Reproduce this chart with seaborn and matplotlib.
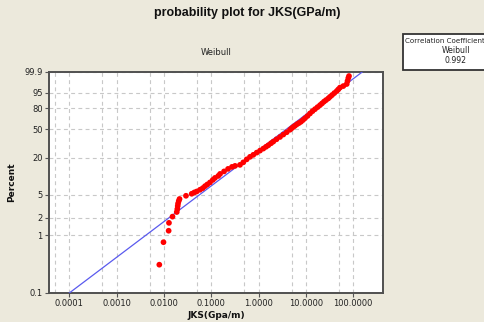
import numpy as np
import pandas as pd
import matplotlib
matplotlib.use("Agg")
import matplotlib.pyplot as plt
import matplotlib.ticker as mticker
from matplotlib.patches import Rectangle
import seaborn as sns

# ---------------- data ----------------
jks = [0.0080, 0.0098, 0.0126, 0.0128, 0.0152, 0.0187, 0.0192, 0.0196, 0.0199, 0.0206,
       0.0214, 0.0293, 0.0387, 0.0439, 0.0494, 0.0580, 0.0661, 0.0740, 0.0827, 0.0943,
       0.108, 0.120, 0.141, 0.154, 0.187, 0.227, 0.275, 0.319, 0.406, 0.477,
       0.563, 0.661, 0.777, 0.916, 1.076, 1.264, 1.441, 1.612, 1.838, 2.056,
       2.403, 2.850, 3.346, 3.948, 4.636, 5.034, 5.444, 5.913, 6.518, 7.184,
       7.916, 8.728, 9.621, 10.87, 12.27, 13.86, 15.65, 17.68, 19.97, 22.00,
       24.26, 26.74, 29.91, 32.49, 35.81, 40.06, 45.03, 48.68, 52.87, 62.09,
       73.25, 76.15, 79.17, 81.91]
percent = [0.31, 0.76, 1.20, 1.64, 2.10, 2.52, 2.83, 3.19, 3.52, 3.89,
           4.21, 4.77, 5.16, 5.43, 5.64, 6.03, 6.41, 6.93, 7.40, 8.00,
           8.80, 9.50, 10.25, 11.06, 12.15, 13.35, 14.38, 14.92, 15.49, 16.98,
           18.93, 20.71, 22.24, 24.02, 25.74, 27.57, 29.30, 30.81, 32.90, 34.77,
           37.40, 40.18, 43.21, 46.24, 49.65, 51.75, 53.60, 55.32, 57.50, 59.26,
           61.18, 63.69, 66.34, 69.57, 73.16, 76.37, 79.05, 81.62, 84.05, 85.99,
           87.91, 89.40, 90.95, 92.28, 93.56, 94.88, 96.00, 96.82, 97.54, 98.05,
           98.60, 99.19, 99.56, 99.72]

# fitted Weibull line parameters
weibull_shape = 0.62
weibull_scale = 6.9
corr_coef = "0.992"

y_ticks = [0.1, 1, 2, 5, 20, 50, 80, 95, 99.9]
y_tick_labels = ["0.1", "1", "2", "5", "20", "50", "80", "95", "99.9"]
x_ticks = [0.0001, 0.001, 0.01, 0.1, 1, 10, 100]
x_tick_labels = ["0.0001", "0.0010", "0.0100", "0.1000", "1.0000", "10.0000", "100.0000"]

title = "probability plot for JKS(GPa/m)"
subtitle = "Weibull"
xlabel = "JKS(Gpa/m)"
ylabel = "Percent"

# ---------------- figure ----------------
sns.set_theme(style="white")
plt.rcParams["font.family"] = ["DejaVu Sans"]

BG = "#ECE9DC"
fig = plt.figure(figsize=(4.85, 3.22), dpi=100, facecolor=BG)
ax = fig.add_axes([49 / 485, 1 - 293 / 322, (383 - 49) / 485, (293 - 72) / 322])
ax.set_facecolor("white")


def fwd(p):
    p = np.asarray(p, dtype=float)
    with np.errstate(all="ignore"):
        return np.log(-np.log(1.0 - p / 100.0))


def inv(w):
    w = np.asarray(w, dtype=float)
    with np.errstate(all="ignore"):
        return 100.0 * (1.0 - np.exp(-np.exp(w)))


ax.set_xscale("log")
ax.set_yscale("function", functions=(fwd, inv))
xlo, xhi = 10 ** -4.429, 10 ** 2.632
ax.set_xlim(xlo, xhi)
ax.set_ylim(0.1, 99.9)

# fitted line
xfit = np.logspace(np.log10(xlo), np.log10(xhi), 300)
pfit = 100.0 * (1.0 - np.exp(-(xfit / weibull_scale) ** weibull_shape))
fit_df = pd.DataFrame({"x": xfit, "p": pfit})
sns.lineplot(data=fit_df, x="x", y="p", ax=ax, color="#5A5AEE", lw=0.9, zorder=3)

df = pd.DataFrame({"jks": jks, "percent": percent})
sns.scatterplot(data=df, x="jks", y="percent", ax=ax, color="#FF0000", s=17,
                edgecolor="none", linewidth=0, zorder=4)

ax.set_xlim(xlo, xhi)
ax.set_ylim(0.1, 99.9)

# ticks
ax.yaxis.set_major_locator(mticker.FixedLocator(y_ticks))
ax.yaxis.set_major_formatter(mticker.FixedFormatter(y_tick_labels))
ax.yaxis.set_minor_locator(mticker.NullLocator())
ax.xaxis.set_major_locator(mticker.FixedLocator(x_ticks))
ax.xaxis.set_major_formatter(mticker.FixedFormatter(x_tick_labels))
ax.xaxis.set_minor_locator(mticker.FixedLocator([5e-5, 5e-4, 5e-3, 5e-2, 0.5, 5, 50]))
ax.xaxis.set_minor_formatter(mticker.NullFormatter())

ax.tick_params(axis="both", which="major", direction="out", length=3, width=0.8,
               color="#555555", labelsize=6, labelcolor="#222222", pad=1.5,
               left=True, bottom=True)
ax.tick_params(axis="x", which="minor", length=0)

grid_kw = dict(color="#C8C8C8", lw=0.8, linestyle=(0, (3.5, 3)))
ax.grid(True, axis="x", which="both", **grid_kw)
ax.grid(True, axis="y", which="major", **grid_kw)
ax.set_axisbelow(True)

for sp in ax.spines.values():
    sp.set_visible(True)
    sp.set_color("#505050")
    sp.set_linewidth(1.4)

ax.set_xlabel(xlabel, fontsize=6.5, fontweight="bold", labelpad=2, color="#111111")
ax.set_ylabel(ylabel, fontsize=6.5, fontweight="bold", labelpad=6, color="#111111")
ax.set_title(subtitle, fontsize=6, pad=12, color="#222222")

fig.text(247 / 485, 1 - 13 / 322, title, ha="center", va="center",
         fontsize=9, fontweight="bold", family=["Liberation Sans", "DejaVu Sans"],
         color="#111111")

# correlation coefficient box
box = Rectangle((403 / 485, 1 - 70 / 322), 110 / 485, 36 / 322, transform=fig.transFigure,
                facecolor="white", edgecolor="#333333", lw=1.3, zorder=5)
fig.patches.append(box)
fig.text(405 / 485, 1 - 40.7 / 322, "Correlation Coefficient", ha="left", va="center",
         fontsize=5.1, color="#222222", zorder=6)
fig.text(456 / 485, 1 - 50.7 / 322, "Weibull", ha="center", va="center",
         fontsize=5.6, color="#222222", zorder=6)
fig.text(456 / 485, 1 - 60.7 / 322, corr_coef, ha="center", va="center",
         fontsize=5.6, color="#222222", zorder=6)

fig.savefig("out.png", dpi=100, facecolor=BG)
